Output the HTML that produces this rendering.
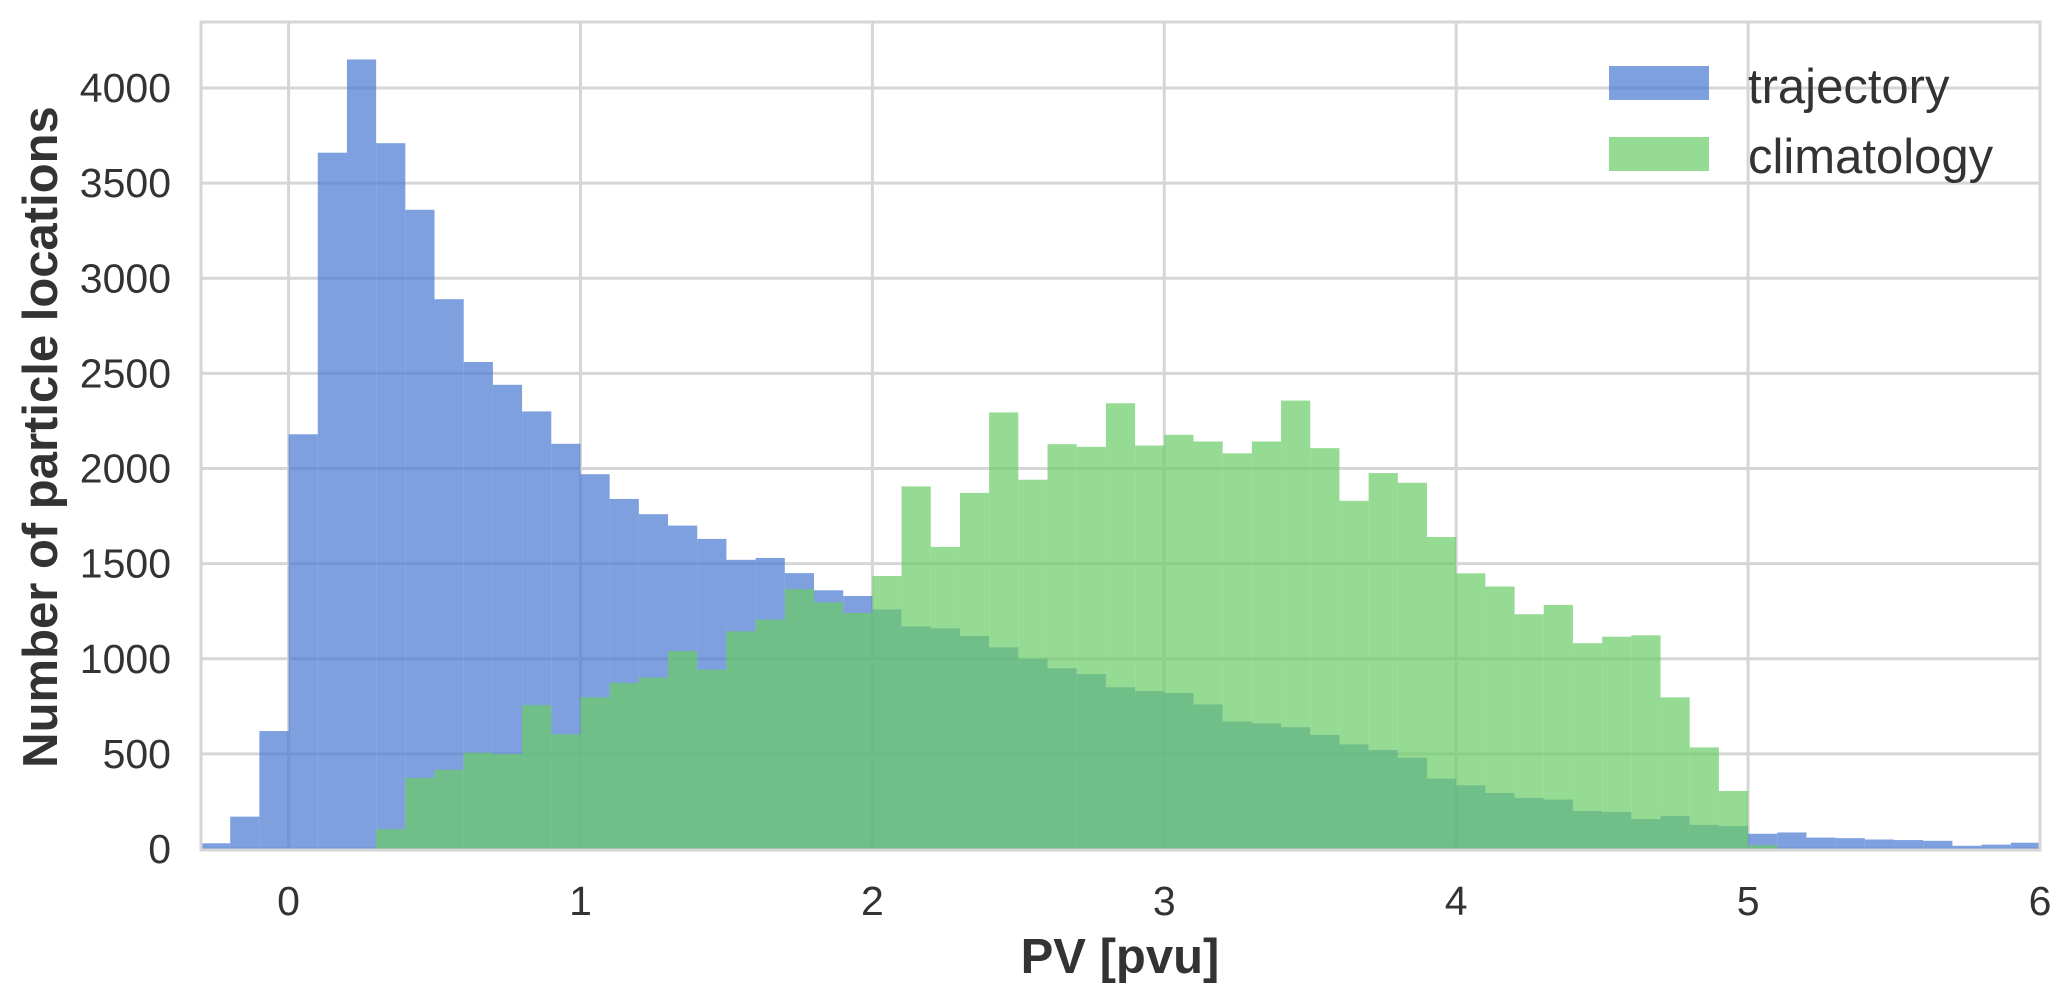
<!DOCTYPE html>
<html><head><meta charset="utf-8"><style>
html,body{margin:0;padding:0;background:#fff;}
svg{display:block;font-family:"Liberation Sans",sans-serif;}
</style></head><body>
<svg id="chart" width="2067" height="999" viewBox="0 0 2067 999" xmlns="http://www.w3.org/2000/svg">
<g id="grid"></g>
<g id="bars-traj"></g>
<g id="bars-clim"></g>
<rect x="201" y="22" width="1839" height="828" fill="none" stroke="#d6d6d6" stroke-width="3"/>
<g id="ticks"></g>
<text x="1120" y="973" font-size="49" font-weight="bold" fill="#333" text-anchor="middle">PV [pvu]</text>
<text transform="translate(57,437) rotate(-90)" font-size="49" font-weight="bold" fill="#333" text-anchor="middle">Number of particle locations</text>
<g>
<rect x="1609" y="66" width="100" height="34" fill="#4878d0" fill-opacity="0.7"/>
<text x="1748" y="103" font-size="49" fill="#333">trajectory</text>
<rect x="1609" y="137" width="100" height="34" fill="#6acc65" fill-opacity="0.7"/>
<text x="1748" y="173" font-size="49" fill="#333">climatology</text>
</g>
</svg>
<script>
const trajStart = -0.3;
const trajCounts = [30,170,620,2180,3660,4150,3710,3360,2890,2560,2440,2300,2130,1970,1840,1760,1700,1630,1520,1530,1450,1360,1330,1260,1170,1160,1120,1060,1000,950,920,850,830,820,760,670,660,640,600,550,520,480,370,335,295,268,260,200,195,157,174,127,120,80,87,60,57,50,47,43,17,23,33,27];
const climStart = 0.3;
const climCounts = [104,374,416,506,500,756,603,797,873,901,1040,943,1144,1206,1366,1296,1241,1435,1906,1588,1872,2295,1941,2128,2114,2343,2121,2177,2142,2080,2142,2357,2107,1830,1976,1925,1640,1449,1380,1234,1283,1082,1116,1123,797,534,305,20];
const binWidth = 0.1;
const xTicks = [0,1,2,3,4,5,6];
const yTicks = [0,500,1000,1500,2000,2500,3000,3500,4000];
const xMin=-0.3,xMax=6,yMin=0,yMax=4347;
const L=201,R=2040,T=22,B=849;
const X=v=>L+(v-xMin)/(xMax-xMin)*(R-L);
const Y=v=>B-(v-yMin)/(yMax-yMin)*(B-T);
const NS="http://www.w3.org/2000/svg";
function mk(tag,attrs,parent){const e=document.createElementNS(NS,tag);for(const k in attrs)e.setAttribute(k,attrs[k]);parent.appendChild(e);return e;}
const grid=document.getElementById('grid'),ticks=document.getElementById('ticks');
yTicks.forEach(v=>{
 const l=mk('line',{x1:L,x2:R,y1:Y(v),y2:Y(v),stroke:'#d6d6d6','stroke-width':3},grid);
 
 
 const t=mk('text',{x:171,y:Y(v)+14,'font-size':41,fill:'#333','text-anchor':'end'},ticks);
 t.textContent=v;
 
 
});
xTicks.forEach(v=>{
 const l=mk('line',{x1:X(v),x2:X(v),y1:T,y2:B,stroke:'#d6d6d6','stroke-width':3},grid);
 
 
 const t=mk('text',{x:X(v),y:915,'font-size':41,fill:'#333','text-anchor':'middle'},ticks);
 t.textContent=v;
 
 
});
function drawBars(gid,start,counts,color,name){
 const g=document.getElementById(gid);
 counts.forEach((c,i)=>{
  const x0=start+i*binWidth,x1=x0+binWidth;
  const xa=Math.max(X(x0),L),xb=Math.min(X(x1),R);
  if(xb<=xa)return;
  const r=mk('rect',{x:xa,y:Y(c),width:xb-xa,height:Y(0)-Y(c),fill:color,'fill-opacity':0.7},g);
  
  
 });
}
drawBars('bars-traj',trajStart,trajCounts,'#4878d0','trajectory-bar');
drawBars('bars-clim',climStart,climCounts,'#6acc65','climatology-bar');
</script>
</body></html>
